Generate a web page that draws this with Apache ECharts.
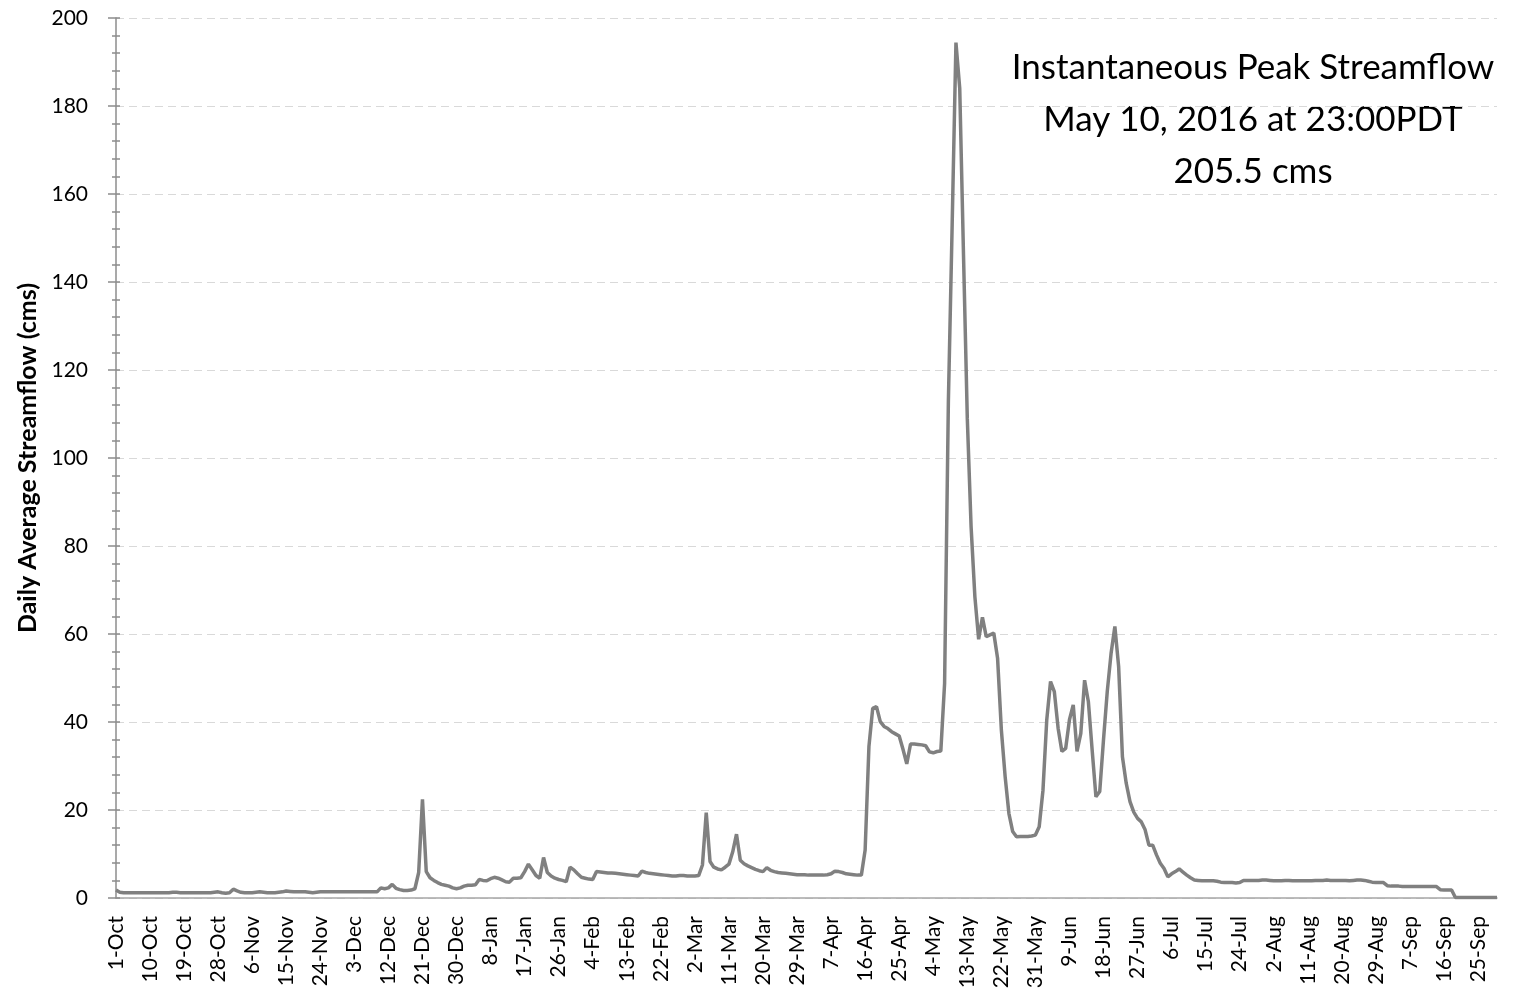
<!DOCTYPE html>
<html>
<head>
<meta charset="utf-8">
<script src="https://cdn.jsdelivr.net/npm/echarts@6/dist/echarts.min.js"></script>
<style>
html,body{margin:0;padding:0;background:#fff;}
#chart{width:1516px;height:996px;}
</style>
</head>
<body>
<div id="chart"></div>
<script>
// Water year Oct 2015 - Sep 2016 (leap year)
const months = ['Oct','Nov','Dec','Jan','Feb','Mar','Apr','May','Jun','Jul','Aug','Sep'];
const monthDays = [31,30,31,31,29,31,30,31,30,31,31,30];

// Daily average streamflow (cms), one array per month
const flowOct = [1.8,1.3,1.2,1.2,1.2,1.2,1.2,1.2,1.2,1.2,1.2,1.2,1.2,1.2,1.2,1.3,1.3,1.2,1.2,1.2,1.2,1.2,1.2,1.2,1.2,1.2,1.3,1.4,1.2,1.1,1.2];
const flowNov = [2.0,1.6,1.3,1.2,1.2,1.2,1.3,1.4,1.3,1.2,1.2,1.2,1.3,1.4,1.6,1.5,1.4,1.4,1.4,1.4,1.3,1.2,1.3,1.4,1.4,1.4,1.4,1.4,1.4,1.4];
const flowDec = [1.4,1.4,1.4,1.4,1.4,1.4,1.4,1.4,1.4,2.3,2.1,2.3,3.1,2.2,1.9,1.7,1.7,1.8,2.1,5.8,22.4,6.0,4.6,4.0,3.5,3.1,2.9,2.7,2.3,2.1,2.3];
const flowJan = [2.7,2.9,2.9,3.0,4.2,4.0,3.9,4.4,4.7,4.5,4.1,3.7,3.6,4.5,4.5,4.6,6.0,7.7,6.4,5.1,4.5,9.2,5.8,5.0,4.5,4.2,4.0,3.7,7.0,6.4,5.5];
const flowFeb = [4.7,4.5,4.3,4.2,6.0,5.9,5.8,5.7,5.7,5.6,5.5,5.4,5.3,5.2,5.1,5.0,6.1,5.8,5.6,5.5,5.4,5.3,5.2,5.1,5.0,5.0,5.1,5.1,5.0];
const flowMar = [5.0,5.0,5.1,7.5,19.4,8.3,7.0,6.6,6.4,7.0,7.7,10.5,14.5,8.6,7.8,7.3,6.9,6.5,6.2,6.0,6.9,6.3,6.0,5.8,5.7,5.6,5.5,5.4,5.3,5.3,5.3];
const flowApr = [5.2,5.2,5.2,5.2,5.2,5.3,5.5,6.1,6.0,5.8,5.5,5.4,5.3,5.2,5.2,10.9,34.4,43.1,43.5,40.1,39.0,38.5,37.8,37.3,36.8,33.8,30.5,35.0,35.0,34.9];
const flowMay = [34.8,34.6,33.2,33.0,33.3,33.4,48.8,113,153,194.4,184,146,109,84.4,68.5,58.8,63.8,59.4,59.8,60.2,54.5,38.2,27.6,19.2,15.1,13.9,14.0,14.0,14.0,14.1,14.3];
const flowJun = [16.2,24.5,40.5,49.2,46.9,38.6,33.3,34.0,40.5,43.9,33.3,37.4,49.5,44.6,33.6,23.0,24.2,36.0,47.0,55.6,61.7,52.6,32.1,26.1,21.9,19.5,18.1,17.3,15.5,12.0];
const flowJul = [12.0,9.8,7.9,6.7,4.8,5.5,6.0,6.6,5.9,5.2,4.6,4.1,4.0,3.9,3.9,3.9,3.9,3.8,3.6,3.5,3.5,3.5,3.4,3.5,4.0,4.0,4.0,4.0,4.0,4.1,4.1];
const flowAug = [4.0,3.9,3.9,3.9,4.0,4.0,3.9,3.9,3.9,3.9,3.9,3.9,4.0,4.0,4.0,4.1,4.0,4.0,4.0,4.0,4.0,3.9,4.0,4.1,4.1,4.0,3.8,3.6,3.5,3.5,3.5];
const flowSep = [2.8,2.7,2.7,2.7,2.6,2.6,2.6,2.6,2.6,2.6,2.6,2.6,2.6,2.6,1.9,1.8,1.8,1.8,0.1,0.1,0.1,0.1,0.1,0.1,0.1,0.1,0.1,0.1,0.1,0.1];

const yTicks = [0,20,40,60,80,100,120,140,160,180,200];
const annotationLines = ['Instantaneous Peak Streamflow','May 10, 2016 at 23:00PDT','205.5 cms'];
const yAxisTitle = 'Daily Average Streamflow (cms)';

const categories = [];
months.forEach((m, k) => { for (let d = 1; d <= monthDays[k]; d++) categories.push(d + '-' + m); });
const flow = [].concat(flowOct, flowNov, flowDec, flowJan, flowFeb, flowMar, flowApr, flowMay, flowJun, flowJul, flowAug, flowSep);

const FONT = 'Lato';
const chart = echarts.init(document.getElementById('chart'), null, {renderer: 'canvas'});
const gridTop = 18, gridBottom = 98, gridLeft = 116, gridRight = 19;

const baseY = {
  type: 'value', min: yTicks[0], max: yTicks[yTicks.length - 1], interval: 20, position: 'left'
};

chart.setOption({
  animation: false,
  backgroundColor: '#ffffff',
  grid: {left: gridLeft, right: gridRight, top: gridTop, bottom: gridBottom, containLabel: false},
  xAxis: {
    type: 'category', data: categories, boundaryGap: false,
    axisLine: {show: true, lineStyle: {color: '#a6a6a6', width: 1.5}},
    axisTick: {show: false},
    axisLabel: {interval: 8, rotate: 90, margin: 18, color: '#000', fontFamily: FONT, fontSize: 21},
    splitLine: {show: false}
  },
  yAxis: [
    Object.assign({}, baseY, {
      name: yAxisTitle, nameLocation: 'middle', nameRotate: 90, nameGap: 74,
      nameTextStyle: {fontFamily: FONT, fontWeight: 'bold', fontSize: 25, color: '#000'},
      axisLine: {show: true, lineStyle: {color: '#8c8c8c', width: 1.5}},
      axisTick: {show: true, inside: false, length: 8, lineStyle: {color: '#8c8c8c', width: 1.5}},
      minorTick: {show: true, splitNumber: 5, length: 4, lineStyle: {color: '#8c8c8c', width: 1.5}},
      axisLabel: {margin: 28, color: '#000', fontFamily: FONT, fontSize: 21},
      splitLine: {show: true, lineStyle: {color: '#d9d9d9', width: 1.2, type: [8, 5]}}
    }),
    Object.assign({}, baseY, {
      axisLine: {show: false},
      axisTick: {show: true, inside: true, length: 4, lineStyle: {color: '#8c8c8c', width: 1.5}},
      minorTick: {show: true, splitNumber: 5, length: 4, lineStyle: {color: '#8c8c8c', width: 1.5}},
      axisLabel: {show: false},
      splitLine: {show: false}
    })
  ],
  graphic: annotationLines.map((t, k) => ({
    type: 'text', x: 1253, y: 68 + k * 52,
    style: {text: t, textAlign: 'center', textVerticalAlign: 'middle', fill: '#000',
            font: '35px ' + FONT}
  })),
  series: [{
    type: 'line', data: flow, yAxisIndex: 0, symbol: 'none', smooth: false,
    lineStyle: {color: '#808080', width: 3.5}, z: 5
  }]
});
</script>
</body>
</html>
